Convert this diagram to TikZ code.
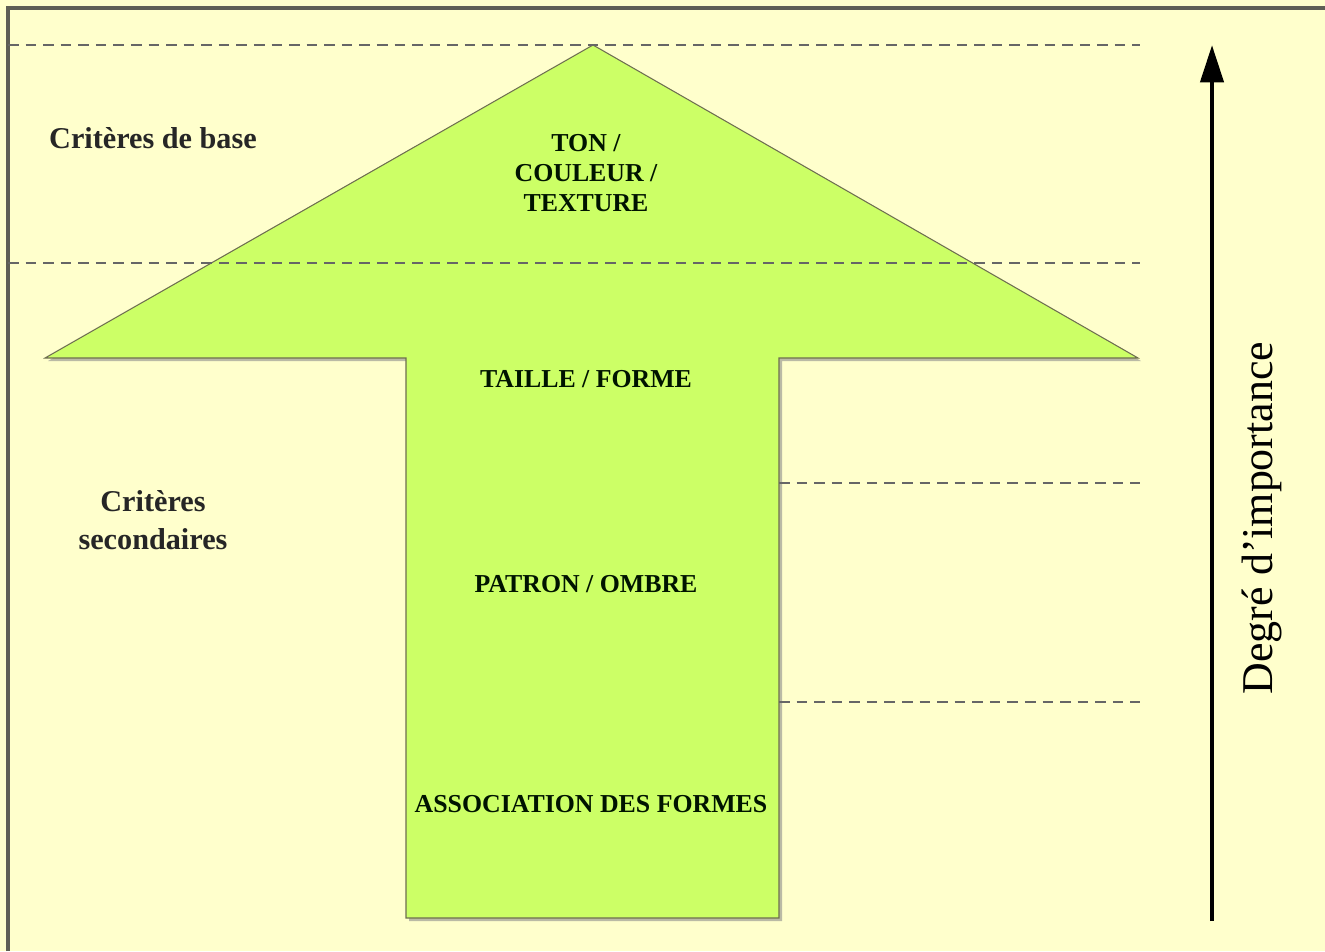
\documentclass[tikz,border=0pt]{standalone}
\usepackage{fontspec}
\setmainfont{Liberation Serif}
\usetikzlibrary{arrows.meta}

\definecolor{fond}{HTML}{FFFFCC}
\definecolor{vert}{HTML}{CCFF66}
\definecolor{bord}{HTML}{6E6E50}
\definecolor{cadre}{HTML}{5E5E54}

\tikzset{
  niveau/.style={gray!80!black, line width=0.8pt, dash pattern=on 6pt off 4pt},
  crit/.style={font=\bfseries\fontsize{17.2}{21.5}\selectfont, align=center, text=black!85},
  etage/.style={font=\bfseries\fontsize{14.7}{17}\selectfont, align=center, text=black!80!green!40!black}
}

\begin{document}
\begin{tikzpicture}[x=0.02cm, y=-0.02cm]

  \useasboundingbox (0,0) rectangle (1325,951);
  \fill[fond] (0,0) rectangle (1325,951);
  \draw[cadre, line width=2.2pt] (8,951) -- (8,8) -- (1325,8);

  % la grande fleche
  \fill[black!45, opacity=0.6] (596,48) -- (1141,361) -- (782,361) -- (782,921) -- (409,921) -- (409,361) -- (48,361) -- cycle;
  \filldraw[fill=vert, draw=bord, line width=0.6pt] (593,45) -- (1138,358) -- (779,358) -- (779,918) -- (406,918) -- (406,358) -- (45,358) -- cycle;

  \draw[niveau] (8,45) -- (1140,45);
  \draw[niveau] (8,263) -- (1140,263);
  \draw[niveau] (779,483) -- (1140,483);
  \draw[niveau] (779,702) -- (1140,702);

  \node[crit] (base) at (153,138) {Critères de base};
  \node[crit] (second) at (153,520) {Critères\\secondaires};

  \node[etage] (ton) at (586,173) {TON /\\COULEUR /\\TEXTURE};
  \node[etage] (taille) at (586,379) {TAILLE / FORME};
  \node[etage] (patron) at (586,584) {PATRON / OMBRE};
  \node[etage] (assoc) at (591,804) {ASSOCIATION DES FORMES};

  \coordinate (bas) at (1212,921);
  \coordinate (haut) at (1212,45);
  \draw[-{Triangle[length=0.75cm, width=0.46cm]}, line width=2.6pt] (bas) -- (haut);
  \node[rotate=90, font=\fontsize{25}{30}\selectfont] (degre) at (1262,518) {Degré d’importance};

\end{tikzpicture}
\end{document}
